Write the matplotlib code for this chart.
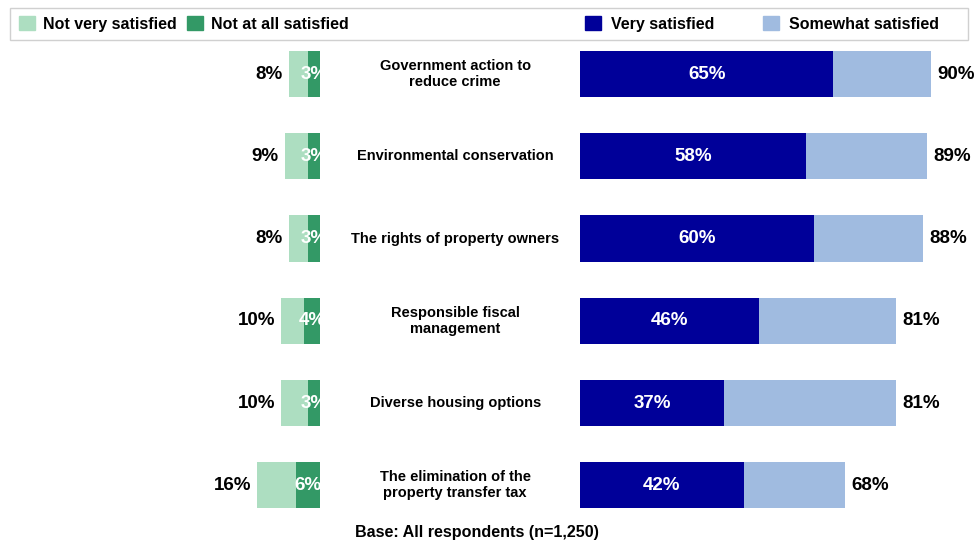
import numpy as np
import matplotlib.pyplot as plt
from matplotlib.patches import Rectangle, Patch

plt.rcParams['font.family'] = ['Liberation Sans', 'DejaVu Sans']

categories = ['Government action to\nreduce crime', 'Environmental conservation',
              'The rights of property owners', 'Responsible fiscal\nmanagement',
              'Diverse housing options', 'The elimination of the\nproperty transfer tax']
very_sat = [65, 58, 60, 46, 37, 42]
total_sat = [90, 89, 88, 81, 81, 68]
not_at_all = [3, 3, 3, 4, 3, 6]
total_unsat = [8, 9, 8, 10, 10, 16]

c_very = '#000099'
c_some = '#A0BBE0'
c_notvery = '#ADDEC1'
c_notatall = '#339966'

fig = plt.figure(figsize=(9.78, 5.42), dpi=100)
ax = fig.add_axes([0, 0, 1, 1])
ax.set_xlim(-580 / 3.9, 398 / 3.9)
ax.set_ylim(5.69, -0.9)
ax.axis('off')

y = np.arange(len(categories))
h = 0.56
left_base = -66.7
some = np.array(total_sat) - np.array(very_sat)
notvery = np.array(total_unsat) - np.array(not_at_all)

ax.barh(y, very_sat, height=h, color=c_very)
ax.barh(y, some, left=very_sat, height=h, color=c_some)
ax.barh(y, -np.array(not_at_all), left=left_base, height=h, color=c_notatall)
ax.barh(y, -notvery, left=left_base - np.array(not_at_all), height=h, color=c_notvery)

# inner labels of the left bars are cut at the bar edge
clip = Rectangle((-200, -2), 200 + left_base, 10, transform=ax.transData)

for i in range(len(categories)):
    ax.text(very_sat[i] / 2, y[i], f'{very_sat[i]}%', color='white', fontsize=13.5,
            fontweight='bold', ha='center', va='center')
    ax.text(total_sat[i] + 1.6, y[i], f'{total_sat[i]}%', color='black', fontsize=13.5,
            fontweight='bold', ha='left', va='center')
    t = ax.text(left_base - not_at_all[i] / 2, y[i], f'{not_at_all[i]}%', color='white',
                fontsize=13.5, fontweight='bold', ha='center', va='center')
    t.set_clip_path(clip)
    ax.text(left_base - total_unsat[i] - 1.5, y[i], f'{total_unsat[i]}%', color='black',
            fontsize=13.5, fontweight='bold', ha='right', va='center')
    ax.text(-32, y[i], categories[i], fontsize=10.5, fontweight='bold', ha='center',
            va='center', linespacing=1.15)

fig.text(477 / 978, 1 - 532 / 542, 'Base: All respondents (n=1,250)', fontsize=11.6,
         fontweight='bold', ha='center', va='center')

# legend box
fig.patches.append(Rectangle((10 / 978, 1 - 40 / 542), 958 / 978, 32 / 542,
                             transform=fig.transFigure, fill=False,
                             edgecolor='#D0D0D0', linewidth=1))

leg_font = {'weight': 'bold', 'size': 11.5}
h1 = [Patch(color=c_notvery), Patch(color=c_notatall)]
fig.legend(h1, ['Not very satisfied', 'Not at all satisfied'], loc='center left',
           bbox_to_anchor=(19 / 978, 1 - 24 / 542), ncol=2, frameon=False,
           prop=leg_font, handlelength=1.0, handleheight=1.0,
           handletextpad=0.5, columnspacing=0.63, borderpad=0, borderaxespad=0)
h2 = [Patch(color=c_very), Patch(color=c_some)]
fig.legend(h2, ['Very satisfied', 'Somewhat satisfied'], loc='center left',
           bbox_to_anchor=(585 / 978, 1 - 24 / 542), ncol=2, frameon=False,
           prop=leg_font, handlelength=1.0, handleheight=1.0,
           handletextpad=0.6, columnspacing=3.1, borderpad=0, borderaxespad=0)

fig.savefig('out.png', dpi=100)
